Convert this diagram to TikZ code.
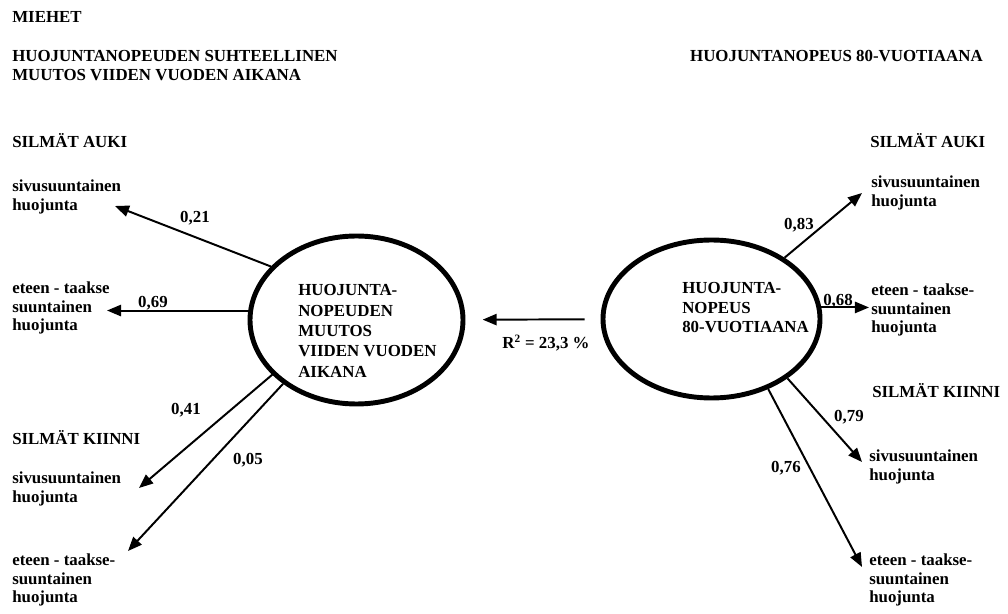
\documentclass[tikz,border=0pt]{standalone}
\usepackage{fontspec}
\setmainfont{Liberation Serif}
\usetikzlibrary{arrows.meta,shapes.geometric}

\begin{document}
\begin{tikzpicture}[>={Triangle[length=10pt,width=8pt]},
  every node/.style={align=left,inner sep=0pt,font=\bfseries\fontsize{12}{13}\selectfont},
  factor/.style={draw,ellipse,line width=3.5pt},
  loading/.style={->,line width=1.4pt}]
  \useasboundingbox (0,0) rectangle (25.2,15.325);
  \node[anchor=west] (men) at (0.3,14.9125) {MIEHET};
  \node[anchor=west] (lefthead) at (0.3,13.6875) {HUOJUNTANOPEUDEN SUHTEELLINEN\\MUUTOS VIIDEN VUODEN AIKANA};
  \node[anchor=east] (righthead) at (24.575,13.9125) {HUOJUNTANOPEUS 80-VUOTIAANA};
  \node[anchor=west] (lopen) at (0.3,11.8) {SILMÄT AUKI};
  \node[anchor=west] (lside1) at (0.3,10.4) {sivusuuntainen\\huojunta};
  \node[anchor=west] (lfront1) at (0.3,7.625) {eteen - taakse\\suuntainen\\huojunta};
  \node[anchor=west] (lclosed) at (0.3,4.375) {SILMÄT KIINNI};
  \node[anchor=west] (lside2) at (0.3,3.1) {sivusuuntainen\\huojunta};
  \node[anchor=west] (lfront2) at (0.3,0.825) {eteen - taakse-\\suuntainen\\huojunta};
  \node[anchor=west] (ropen) at (21.75,11.8) {SILMÄT AUKI};
  \node[anchor=west] (rside1) at (21.775,10.5) {sivusuuntainen\\huojunta};
  \node[anchor=west] (rfront1) at (21.775,7.575) {eteen - taakse-\\suuntainen\\huojunta};
  \node[anchor=west] (rclosed) at (21.8,5.55) {SILMÄT KIINNI};
  \node[anchor=west] (rside2) at (21.725,3.65) {sivusuuntainen\\huojunta};
  \node[anchor=west] (rfront2) at (21.725,0.825) {eteen - taakse-\\suuntainen\\huojunta};
  \node[factor,minimum width=5.325cm,minimum height=4.2cm] (change) at (8.9125,7.325) {};
  \node[factor,minimum width=5.425cm,minimum height=3.95cm] (speed) at (17.7875,7.35) {};
  \node[anchor=west,font=\bfseries\fontsize{12}{14.5}\selectfont] (changetext) at (7.45,7.05)
    {HUOJUNTA-\\NOPEUDEN\\MUUTOS\\VIIDEN VUODEN\\AIKANA};
  \node[anchor=west,font=\bfseries\fontsize{12}{13.9}\selectfont] (speedtext) at (17.05,7.625)
    {HUOJUNTA-\\NOPEUS\\80-VUOTIAANA};
  \coordinate (t21) at (2.875,10.175);
  \coordinate (t69) at (2.675,7.575);
  \coordinate (t41) at (3.475,3.125);
  \coordinate (t05) at (3.2,1.55);
  \coordinate (t83) at (21.55,10.5);
  \coordinate (t68) at (21.725,7.625);
  \coordinate (t79) at (21.55,3.775);
  \coordinate (t76) at (21.55,1.15);
  \draw[loading] (change.148) -- (t21);
  \draw[loading] (change.175) -- (change.175 -| t69);
  \draw[loading] (change.213) -- (t41);
  \draw[loading] (change.221) -- (t05);
  \draw[loading] (speed.40) -- (t83);
  \draw[loading] (speed.6) -- (speed.6 -| t68);
  \draw[loading] (speed.322) -- (t79);
  \draw[loading] (speed.309) -- (t76);
  \draw[loading,shorten <=0.4cm,shorten >=0.43cm] (speed) -- (change);
  \node (w21) at (4.875,9.875) {0,21};
  \node (w69) at (3.825,7.75) {0,69};
  \node (w41) at (4.65,5.075) {0,41};
  \node (w05) at (6.2,3.825) {0,05};
  \node (w83) at (19.975,9.7) {0,83};
  \node (w68) at (20.95,7.7875) {0,68};
  \node (w79) at (21.225,4.9) {0,79};
  \node (w76) at (19.65,3.625) {0,76};
  \node (r2) at (13.65,6.75) {R\textsuperscript{2} = 23,3 \%};
\end{tikzpicture}
\end{document}
